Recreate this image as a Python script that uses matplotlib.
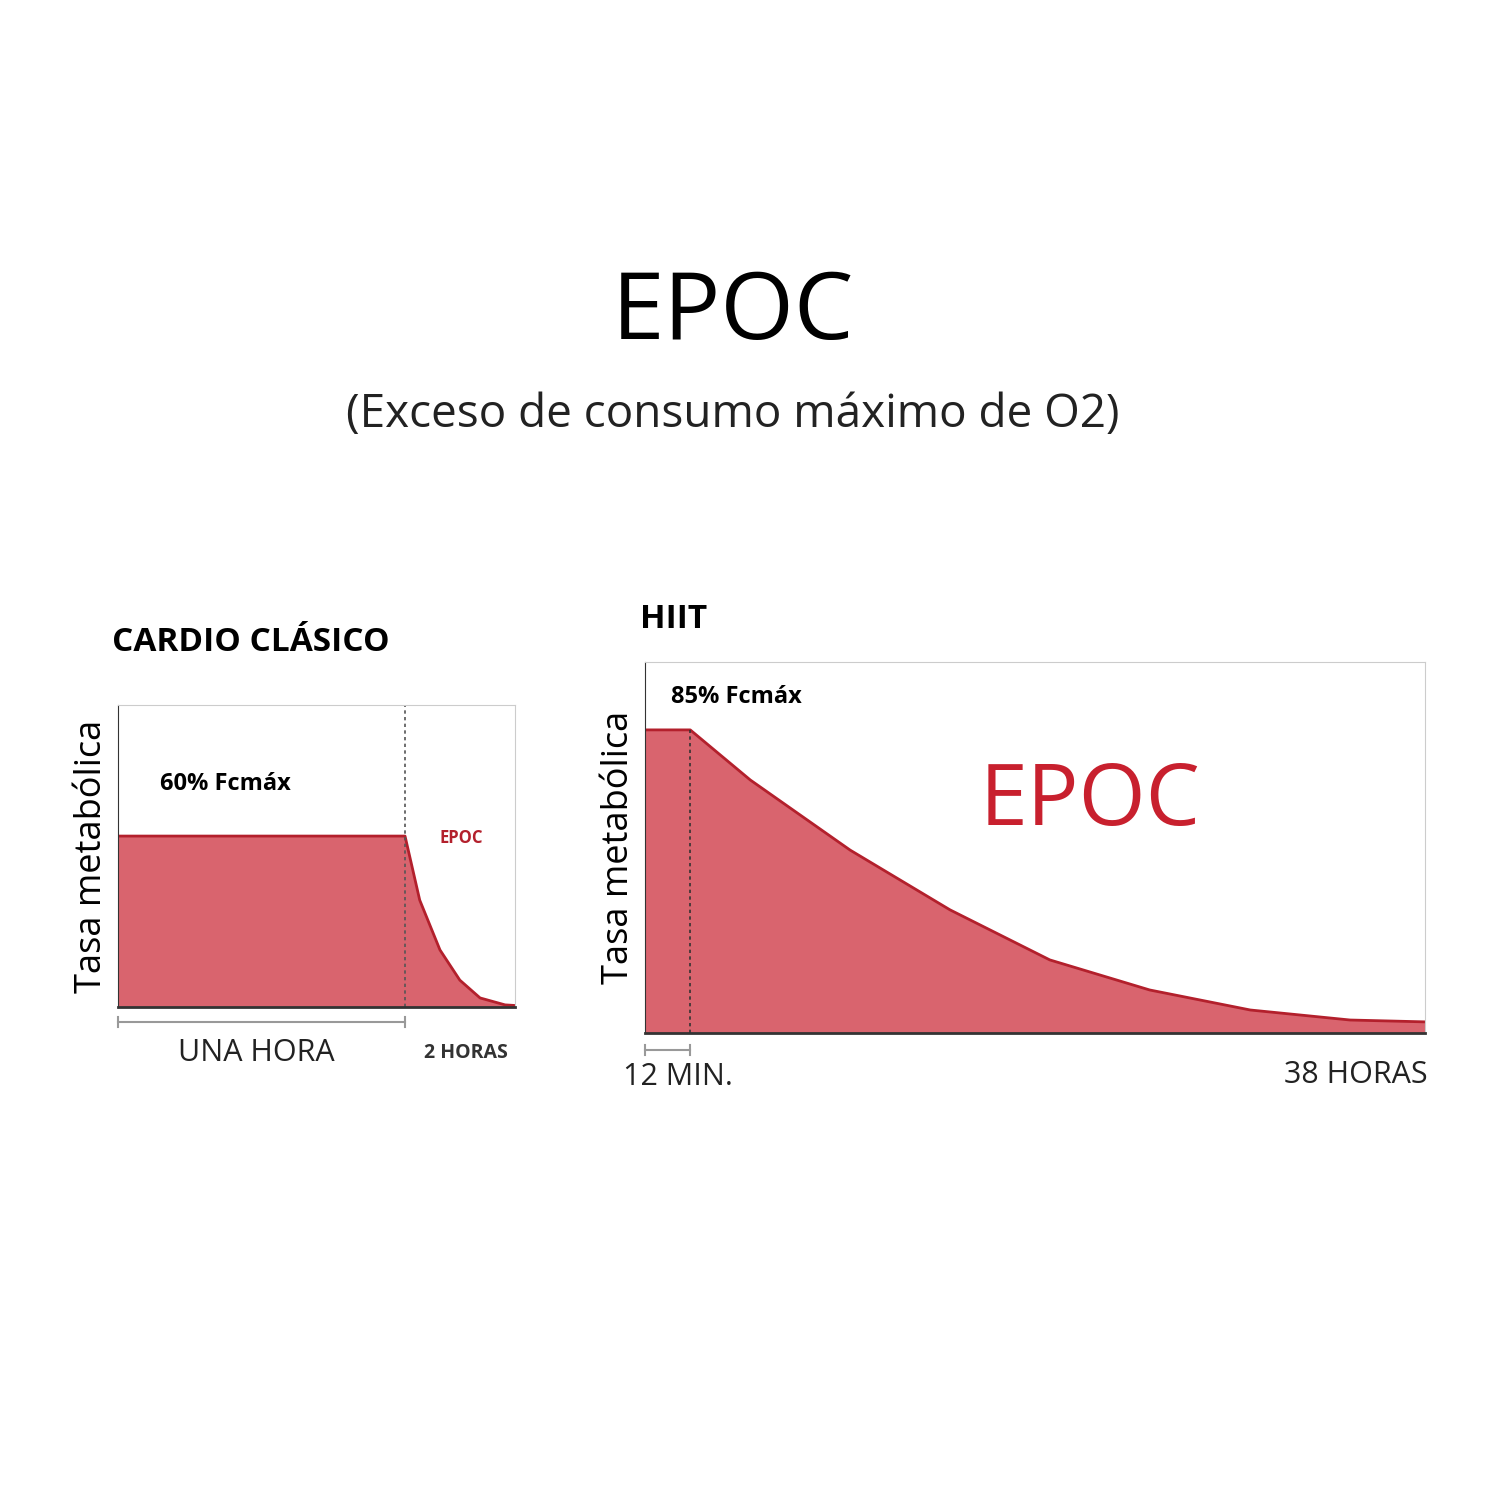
import matplotlib
matplotlib.use("Agg")
import matplotlib.pyplot as plt

plt.rcParams["font.family"] = ["Open Sans", "DejaVu Sans"]

# Curves in axis units (0-100 for x and y)
cardio_x = [0, 72.3, 76.0, 81.1, 86.1, 91.2, 97.5, 100]
cardio_y = [56.6, 56.6, 35.4, 18.9, 8.9, 3.0, 0.7, 0.5]
hiit_x = [0, 5.8, 13.5, 26.3, 39.1, 51.9, 64.7, 77.6, 90.4, 100]
hiit_y = [81.7, 81.7, 68.2, 49.3, 33.2, 19.7, 11.6, 6.2, 3.5, 3.0]

FILL = "#d9646e"
LINE = "#b3202c"
W, H = 1512, 1512

fig = plt.figure(figsize=(15.12, 15.12), dpi=100)


def add_ax(x0, y0, x1, y1):
    return fig.add_axes([x0 / W, 1 - y1 / H, (x1 - x0) / W, (y1 - y0) / H])


fig.text(733 / W, 1 - 315 / H, "EPOC", ha="center", va="center", fontsize=68)
fig.text(733 / W, 1 - 415 / H, "(Exceso de consumo máximo de O2)",
         ha="center", va="center", fontsize=33, color="#222222")

# --- Cardio clasico ---
ax1 = add_ax(118, 705, 515, 1007)
ax1.fill_between(cardio_x, cardio_y, 0, color=FILL, lw=0)
ax1.plot(cardio_x, cardio_y, color=LINE, lw=2)
ax1.plot([72.3, 72.3], [0, 100], color="#555555", ls=(0, (2, 2)), lw=1.2)
ax1.set_xlim(0, 100)
ax1.set_ylim(0, 100)
ax1.set_xticks([])
ax1.set_yticks([])
for s in ax1.spines.values():
    s.set_color("#cccccc")
ax1.spines["bottom"].set_color("#333333")
ax1.spines["bottom"].set_linewidth(2)
ax1.spines["left"].set_color("#333333")
ax1.text(10.5, 74, "60% Fcmáx", fontsize=17, fontweight="bold", va="center")
ax1.text(81, 56, "EPOC", fontsize=12, fontweight="bold", color=LINE, va="center")
ax1.set_ylabel("Tasa metabólica", fontsize=26, labelpad=6)
fig.text(112 / W, 1 - 642 / H, "CARDIO CLÁSICO", fontsize=24, fontweight="bold",
         va="center")
fig.text(256 / W, 1 - 1053 / H, "UNA HORA", fontsize=22, ha="center", va="center",
         color="#222222")
fig.text(466 / W, 1 - 1053 / H, "2 HORAS", fontsize=14, ha="center", va="center",
         color="#333333", fontweight="bold")
fig.add_artist(plt.Line2D([118 / W, 405 / W], [1 - 1022 / H] * 2, color="#999999", lw=1.5))
for px in (118, 405):
    fig.add_artist(plt.Line2D([px / W] * 2, [1 - 1017 / H, 1 - 1027 / H], color="#999999", lw=1.5))

# --- HIIT ---
ax2 = add_ax(645, 662, 1425, 1033)
ax2.fill_between(hiit_x, hiit_y, 0, color=FILL, lw=0)
ax2.plot(hiit_x, hiit_y, color=LINE, lw=2)
ax2.plot([5.8, 5.8], [0, 81.7], color="#333333", ls=(0, (2, 2)), lw=1.2)
ax2.set_xlim(0, 100)
ax2.set_ylim(0, 100)
ax2.set_xticks([])
ax2.set_yticks([])
for s in ax2.spines.values():
    s.set_color("#cccccc")
ax2.spines["bottom"].set_color("#333333")
ax2.spines["bottom"].set_linewidth(2)
ax2.spines["left"].set_color("#333333")
ax2.text(3.3, 90.5, "85% Fcmáx", fontsize=17, fontweight="bold", va="center")
ax2.text(57, 62, "EPOC", fontsize=62, color="#c8202e", ha="center", va="center")
ax2.set_ylabel("Tasa metabólica", fontsize=26, labelpad=6)
fig.text(640 / W, 1 - 620 / H, "HIIT", fontsize=24, fontweight="bold", va="center")
fig.text(678 / W, 1 - 1077 / H, "12 MIN.", fontsize=22, ha="center", va="center",
         color="#222222")
fig.text(1356 / W, 1 - 1075 / H, "38 HORAS", fontsize=22, ha="center", va="center",
         color="#222222")
fig.add_artist(plt.Line2D([645 / W, 690 / W], [1 - 1050 / H] * 2, color="#999999", lw=1.5))
for px in (645, 690):
    fig.add_artist(plt.Line2D([px / W] * 2, [1 - 1045 / H, 1 - 1055 / H], color="#999999", lw=1.5))

fig.savefig("out.png", dpi=100)
